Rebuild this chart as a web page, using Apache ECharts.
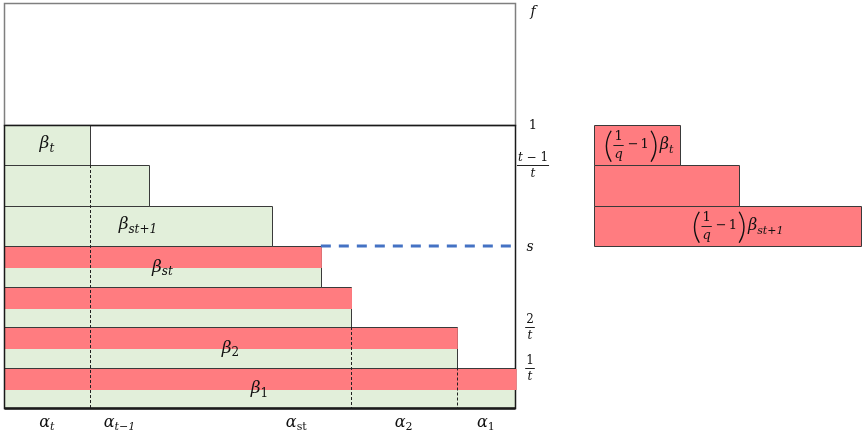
<!DOCTYPE html>
<html>
<head>
<meta charset="utf-8">
<script src="https://cdn.jsdelivr.net/npm/echarts@6/dist/echarts.min.js"></script>
<style>
  html, body { margin: 0; padding: 0; background: #ffffff; }
  #chart { width: 862px; height: 435px; }
</style>
</head>
<body>
<div id="chart"></div>
<script>
// Rows are counted from the bottom of the unit box (level 0) to its top (level 7); f is level 10.
const rowCount = 7;
const topLevel = 10;

// Green bar widths per row, bottom row first (box width = 1).
const greenWidths = [1.000, 0.886, 0.679, 0.620, 0.524, 0.284, 0.168];
// Red overlays on the four lowest rows.
const redWidths = [1.003, 0.888, 0.681, 0.622];
const redShare = 0.55;

// Scaled copies shown on the right.
const rightRows = [4, 5, 6];
const rightWidths = [0.524, 0.284, 0.168];

// Row names inside the bars.
const labelRows = [0, 1, 3, 4, 6];
const labelSubs = ['1', '2', 'st', 'st+1', 't'];

// Dashed verticals: x position and the level they rise to.
const dashX = [0.168, 0.679, 0.886];
const dashTop = [6, 2, 1];

// Blue dashed level line at s.
const sLevel = 4;
const sFrom = 0.620;

// Level labels on the right edge of the box.
const yLevels = [10, 7, 6, 4, 2, 1];
const yNames = ['f', '1', 't−1|t', 's', '2|t', '1|t'];

// Width labels under the box.
const xLabelPos = [0.084, 0.226, 0.572, 0.782, 0.943];
const xLabelSubs = ['t', 't−1', 'st', '2', '1'];

const GREEN = '#E2EFDA';
const RED = '#FF7C80';
const EDGE = '#3a3a3a';
const FONT = '"DejaVu Serif", serif';

const measureCtx = document.createElement('canvas').getContext('2d');
function fontOf(p) { return (p.italic ? 'italic ' : '') + p.size + 'px ' + (p.family || FONT); }
function textWidth(str, font) { measureCtx.font = font; return measureCtx.measureText(str).width; }
function sumW(list) { return list.reduce(function (s, q) { return s + q.w; }, 0); }

// Lay out a run of text pieces, fractions and tall brackets from left to right.
function measure(pieces) {
  return pieces.map(function (p) {
    if (p.num) {
      const n = measure(p.num), d = measure(p.den);
      const nw = sumW(n), dw = sumW(d);
      return Object.assign({}, p, { n: n, d: d, nw: nw, dw: dw, w: Math.max(nw, dw) + (p.pad || 4) });
    }
    if (p.paren) return Object.assign({}, p, { w: p.pw });
    const f = fontOf(p);
    return Object.assign({}, p, { f: f, w: textWidth(p.t, f) + (p.gap || 0) });
  });
}
function place(ms, x0, cy, out) {
  let x = x0;
  ms.forEach(function (m) {
    if (m.num) {
      const mid = x + m.w / 2;
      const ly = Math.round(cy) + 0.5;
      place(m.n, mid - m.nw / 2, ly - m.lift, out);
      place(m.d, mid - m.dw / 2, ly + m.drop, out);
      out.push({ type: 'line', shape: { x1: x + 1, y1: ly, x2: x + m.w - 1, y2: ly },
                 style: { stroke: '#222', lineWidth: 1 } });
    } else if (m.paren) {
      const yc = cy + (m.dy || 0);
      const left = m.paren === 'left';
      const tipX = left ? x + m.pw * 0.85 : x + m.pw * 0.15;
      const ctrlX = left ? x - m.pw * 0.35 : x + m.pw * 1.35;
      out.push({ type: 'bezierCurve',
                 shape: { x1: tipX, y1: yc - m.ph / 2, x2: tipX, y2: yc + m.ph / 2, cpx1: ctrlX, cpy1: yc },
                 style: { stroke: '#111', lineWidth: 1.4, fill: null } });
    } else {
      out.push({ type: 'text', style: { text: m.t, x: x + (m.lead || 0), y: cy + (m.dy || 0), font: m.f,
                 fill: '#111', align: 'left', verticalAlign: 'middle' } });
    }
    x += m.w;
  });
}
function mathGroup(pieces, cx, cy, anchor) {
  const ms = measure(pieces);
  const w = sumW(ms);
  const x0 = anchor === 'left' ? cx : cx - w / 2;
  const out = [];
  place(ms, x0, cy, out);
  return { type: 'group', children: out };
}
function beta(sub, compact) {
  const italicSub = /[a-z]/.test(sub);
  return [
    { t: 'β', size: compact ? 16 : 17, italic: true },
    { t: sub, size: compact ? 11 : 12, italic: italicSub, dy: 5 }
  ];
}
function smallFrac(num, den) {
  const piece = function (s) {
    if (s === 't−1') return [{ t: 't', size: 12, italic: true }, { t: ' − 1', size: 12 }];
    return [{ t: s, size: 12, italic: /[a-z]/.test(s) }];
  };
  return { num: piece(num), den: piece(den), lift: 8, drop: 8, pad: 4 };
}
function qFactor() {
  return [
    { paren: 'left', pw: 8, ph: 31, dy: 1.5 },
    { num: [{ t: '1', size: 13 }], den: [{ t: 'q', size: 13, italic: true }], lift: 9, drop: 9, pad: 4 },
    { t: '−', size: 13, gap: 5, lead: 3 },
    { t: '1', size: 13, gap: 1 },
    { paren: 'right', pw: 8, ph: 31, dy: 1.5 },
    { t: '', size: 4, gap: 2 }
  ];
}
const rightLabels = [
  qFactor().concat(beta('st+1', true)),
  null,
  qFactor().concat(beta('t', true))
];

function snapRect(api, x0, x1, y0, y1) {
  const a = api.coord([x0, y1]), b = api.coord([x1, y0]);
  const l = Math.round(a[0]) + 0.5, t = Math.round(a[1]) + 0.5;
  const r = Math.round(b[0]) + 0.5, btm = Math.round(b[1]) + 0.5;
  return { x: l, y: t, width: r - l, height: btm - t };
}

const chart = echarts.init(document.getElementById('chart'), null, { renderer: 'canvas' });

const axisOff = { show: false };
const option = {
  animation: false,
  backgroundColor: '#ffffff',
  grid: [
    { left: 4, top: 3, width: 511, height: 405 },
    { left: 594, top: 3, right: 0, height: 405 }
  ],
  xAxis: [
    Object.assign({ type: 'value', min: 0, max: 1, gridIndex: 0 }, axisOff),
    // the widest copy fills the right-hand panel
    Object.assign({ type: 'value', min: 0, max: Math.max.apply(null, rightWidths), gridIndex: 1 }, axisOff)
  ],
  yAxis: [
    Object.assign({ type: 'value', min: 0, max: topLevel, gridIndex: 0 }, axisOff),
    Object.assign({ type: 'value', min: 0, max: topLevel, gridIndex: 1 }, axisOff)
  ],
  series: [
    // upper frame between 1 and f
    {
      type: 'custom', xAxisIndex: 0, yAxisIndex: 0, silent: true, clip: false, z: 1,
      data: [[rowCount, topLevel]],
      renderItem: function (params, api) {
        return { type: 'rect', shape: snapRect(api, 0, 1, api.value(0), api.value(1)),
                 style: { fill: 'none', stroke: '#7f7f7f', lineWidth: 1.5 } };
      }
    },
    // green bars
    {
      type: 'custom', xAxisIndex: 0, yAxisIndex: 0, silent: true, clip: false, z: 2,
      data: greenWidths.map(function (w, i) { return [i, w]; }),
      renderItem: function (params, api) {
        const row = api.value(0), w = api.value(1);
        return { type: 'rect', shape: snapRect(api, 0, w, row, row + 1),
                 style: { fill: GREEN, stroke: EDGE, lineWidth: 1 } };
      }
    },
    // red overlays
    {
      type: 'custom', xAxisIndex: 0, yAxisIndex: 0, silent: true, clip: false, z: 3,
      data: redWidths.map(function (w, i) { return [i, w]; }),
      renderItem: function (params, api) {
        const row = api.value(0), w = api.value(1);
        const a = api.coord([0, row + 1]), b = api.coord([w, row + 1 - redShare]);
        const top = Math.round(a[1]) + 1;
        return { type: 'rect', shape: { x: Math.round(a[0]), y: top, width: b[0] - Math.round(a[0]), height: Math.round(b[1]) - top },
                 style: { fill: RED } };
      }
    },
    // dashed verticals
    {
      type: 'custom', xAxisIndex: 0, yAxisIndex: 0, silent: true, clip: false, z: 4,
      data: dashX.map(function (x, i) { return [x, dashTop[i]]; }),
      renderItem: function (params, api) {
        const a = api.coord([api.value(0), api.value(1)]), b = api.coord([api.value(0), 0]);
        const x = Math.round(a[0]) + 0.5;
        return { type: 'line', shape: { x1: x, y1: a[1], x2: x, y2: b[1] },
                 style: { stroke: '#222', lineWidth: 1, lineDash: [3, 2] } };
      }
    },
    // unit box
    {
      type: 'custom', xAxisIndex: 0, yAxisIndex: 0, silent: true, clip: false, z: 5,
      data: [[0, rowCount]],
      renderItem: function (params, api) {
        const s = snapRect(api, 0, 1, api.value(0), api.value(1));
        return { type: 'group', children: [
          { type: 'rect', shape: s, style: { fill: 'none', stroke: '#1a1a1a', lineWidth: 1.5 } },
          { type: 'line', shape: { x1: s.x, y1: s.y + s.height, x2: s.x + s.width, y2: s.y + s.height },
            style: { stroke: '#1a1a1a', lineWidth: 2.5 } }
        ] };
      }
    },
    // bottom row's red band runs over the box's right edge
    {
      type: 'custom', xAxisIndex: 0, yAxisIndex: 0, silent: true, clip: false, z: 6,
      data: [[0, redWidths[0]]],
      renderItem: function (params, api) {
        const row = api.value(0), w = api.value(1);
        const a = api.coord([0.9, row + 1]), b = api.coord([w, row + 1 - redShare]);
        const top = Math.round(a[1]) + 1;
        return { type: 'rect', shape: { x: a[0], y: top, width: b[0] - a[0], height: Math.round(b[1]) - top },
                 style: { fill: RED } };
      }
    },
    // blue dashed line at s
    {
      type: 'custom', xAxisIndex: 0, yAxisIndex: 0, silent: true, clip: false, z: 7,
      data: [[sFrom, sLevel]],
      renderItem: function (params, api) {
        const a = api.coord([api.value(0), api.value(1)]), b = api.coord([1, api.value(1)]);
        return { type: 'line', shape: { x1: a[0], y1: a[1], x2: b[0] - 2, y2: b[1] },
                 style: { stroke: '#4472C4', lineWidth: 3, lineDash: [10, 8] } };
      }
    },
    // bar names
    {
      type: 'custom', xAxisIndex: 0, yAxisIndex: 0, silent: true, clip: false, z: 8,
      data: labelRows.map(function (r) { return [r, greenWidths[r]]; }),
      renderItem: function (params, api) {
        const row = api.value(0), w = api.value(1);
        const yMid = row < redWidths.length ? row + 1 - redShare : row + 0.5;
        const p = api.coord([w / 2, yMid]);
        return mathGroup(beta(labelSubs[params.dataIndex]), p[0], p[1] - 1);
      }
    },
    // level names on the right of the box
    {
      type: 'custom', xAxisIndex: 0, yAxisIndex: 0, silent: true, clip: false, z: 8,
      data: yLevels.map(function (v) { return [1, v]; }),
      renderItem: function (params, api) {
        const p = api.coord([api.value(0), api.value(1)]);
        const name = yNames[params.dataIndex];
        const cx = p[0] + 18;
        if (name.indexOf('|') >= 0) {
          const parts = name.split('|');
          return mathGroup([smallFrac(parts[0], parts[1])], cx - (parts[0].length > 1 ? 0 : 3), p[1]);
        }
        const atTop = api.value(1) === topLevel;
        return mathGroup([{ t: name, size: name === '1' ? 13 : 14, italic: /[a-z]/.test(name) }],
                         cx - (name === 's' ? 3 : 0), atTop ? p[1] + 9 : p[1] + 1);
      }
    },
    // width names under the box
    {
      type: 'custom', xAxisIndex: 0, yAxisIndex: 0, silent: true, clip: false, z: 8,
      data: xLabelPos.map(function (x) { return [x, 0]; }),
      renderItem: function (params, api) {
        const p = api.coord([api.value(0), api.value(1)]);
        const sub = xLabelSubs[params.dataIndex];
        const pieces = [
          { t: 'α', size: 16, italic: true },
          { t: sub, size: 11, italic: sub.charAt(0) === 't', dy: 4 }
        ];
        return mathGroup(pieces, p[0], p[1] + 15);
      }
    },
    // scaled copies on the right
    {
      type: 'custom', xAxisIndex: 1, yAxisIndex: 1, silent: true, clip: false, z: 2,
      data: rightRows.map(function (r, i) { return [r, rightWidths[i]]; }),
      renderItem: function (params, api) {
        const row = api.value(0), w = api.value(1);
        const s = snapRect(api, 0, w, row, row + 1);
        if (s.x + s.width > 861.5) s.width = 861.5 - s.x;
        const children = [{ type: 'rect', shape: s, style: { fill: RED, stroke: EDGE, lineWidth: 1 } }];
        const lab = rightLabels[params.dataIndex];
        if (lab) {
          const p = api.coord([w / 2, row + 0.5]);
          children.push(mathGroup(lab, p[0] + (row === 4 ? 10 : 2), p[1]));
        }
        return { type: 'group', children: children };
      }
    }
  ]
};
chart.setOption(option);
</script>
</body>
</html>
